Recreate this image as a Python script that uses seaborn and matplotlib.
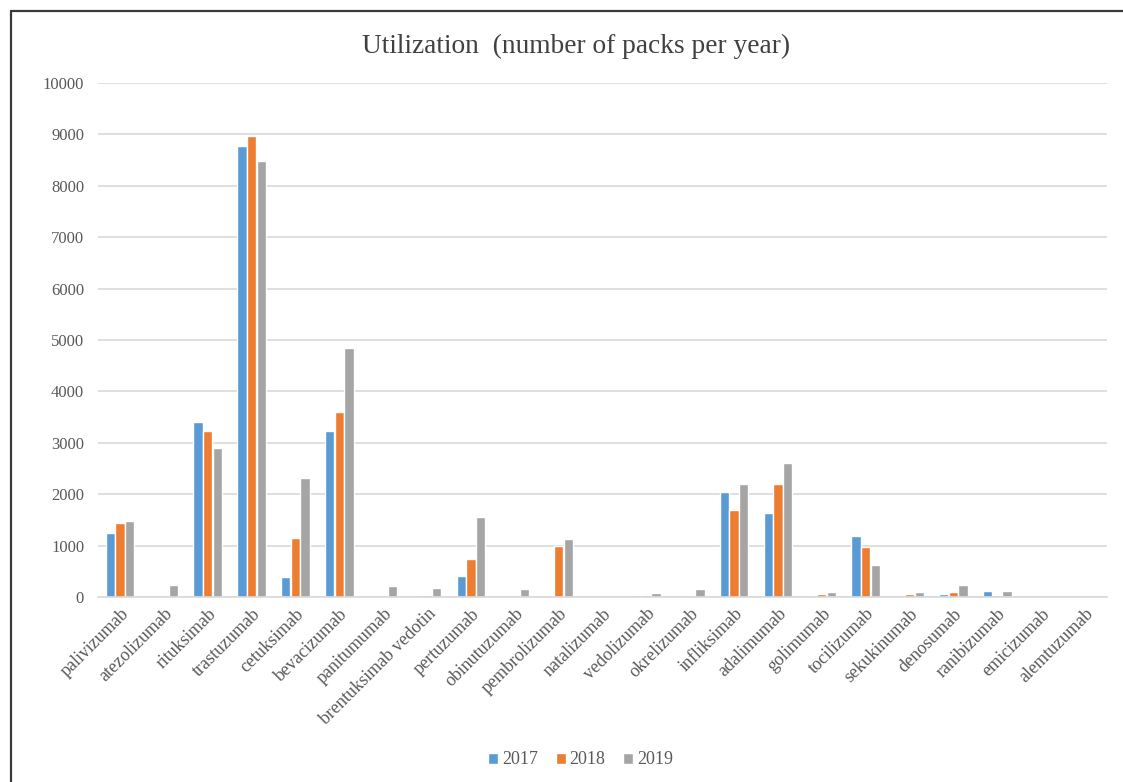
import matplotlib
matplotlib.use("Agg")
import matplotlib.pyplot as plt
from matplotlib.lines import Line2D
import seaborn as sns
import pandas as pd

# Annual utilization, number of packs
drugs = [
    "palivizumab", "atezolizumab", "rituksimab", "trastuzumab", "cetuksimab",
    "bevacizumab", "panitumumab", "brentuksimab vedotin", "pertuzumab",
    "obinutuzumab", "pembrolizumab", "natalizumab", "vedolizumab",
    "okrelizumab", "infliksimab", "adalimumab", "golimumab", "tocilizumab",
    "sekukinumab", "denosumab", "ranibizumab", "emicizumab", "alemtuzumab",
]
packs_2017 = [1240, 0, 3400, 8780, 390, 3220, 0, 40, 410, 0, 0, 0, 30, 0,
              2050, 1640, 0, 1180, 0, 60, 120, 0, 0]
packs_2018 = [1440, 0, 3220, 8960, 1150, 3600, 0, 40, 740, 0, 1000, 0, 30, 0,
              1700, 2200, 60, 980, 60, 90, 40, 0, 0]
packs_2019 = [1470, 240, 2900, 8480, 2320, 4850, 210, 180, 1560, 150, 1120, 0,
              85, 150, 2200, 2600, 90, 630, 90, 240, 120, 0, 0]
years = ["2017", "2018", "2019"]
y_ticks = list(range(0, 10001, 1000))

df = pd.DataFrame({
    "drug": drugs * 3,
    "year": [y for y in years for _ in drugs],
    "packs": packs_2017 + packs_2018 + packs_2019,
})

sns.set_theme(style="white")
plt.rcParams["font.family"] = ["Liberation Serif", "DejaVu Serif"]

W, H = 1123, 782
fig = plt.figure(figsize=(W / 100, H / 100), dpi=100)
ax = fig.add_axes([98 / W, 1 - 597 / H, (1107 - 98) / W, (597 - 83) / H])

palette = {"2017": "#5B9BD5", "2018": "#ED7D31", "2019": "#A5A5A5"}
sns.barplot(data=df, x="drug", y="packs", hue="year", order=drugs,
            hue_order=years, palette=palette, width=0.66, gap=0.04,
            saturation=1, errorbar=None, ax=ax, legend=True)

ax.set_ylim(0, 10000)
ax.set_xlim(-0.5, len(drugs) - 0.5)
ax.set_yticks(y_ticks)
ax.set_yticklabels([str(v) for v in y_ticks], fontsize=12, color="#595959")
ax.yaxis.grid(True, color="#D9D9D9", linewidth=1.2)
ax.set_axisbelow(True)
for side in ("top", "right", "left"):
    ax.spines[side].set_visible(False)
ax.spines["bottom"].set_color("#D9D9D9")
ax.spines["bottom"].set_linewidth(1.2)
ax.tick_params(axis="both", length=0, pad=10)
ax.set_xticks(range(len(drugs)))
ax.set_xticklabels(drugs, rotation=45, ha="right", rotation_mode="anchor",
                   fontsize=13, color="#595959")
ax.tick_params(axis="x", pad=6)
ax.set_xlabel("")
ax.set_ylabel("")

fig.text(576 / W, 1 - 46 / H, "Utilization  (number of packs per year)",
         ha="center", va="center", fontsize=19.7, color="#404040")

handles, labels = ax.get_legend_handles_labels()
ax.legend_.remove()
fig.legend(handles, labels, loc="center", bbox_to_anchor=(0.517, 1 - 760 / H),
           ncol=3, frameon=False, fontsize=13, handlelength=0.55,
           handleheight=0.55, handletextpad=0.2, columnspacing=1.0,
           labelcolor="#595959")

# outer frame on the left and top edges
frame_kw = dict(color="#3A3A3A", linewidth=1.6, transform=fig.transFigure)
fig.add_artist(Line2D([10.5 / W, 10.5 / W], [0, 1 - 10.5 / H], **frame_kw))
fig.add_artist(Line2D([10.5 / W, 1], [1 - 10.5 / H, 1 - 10.5 / H], **frame_kw))

fig.savefig("out.png", dpi=100, facecolor="white")
